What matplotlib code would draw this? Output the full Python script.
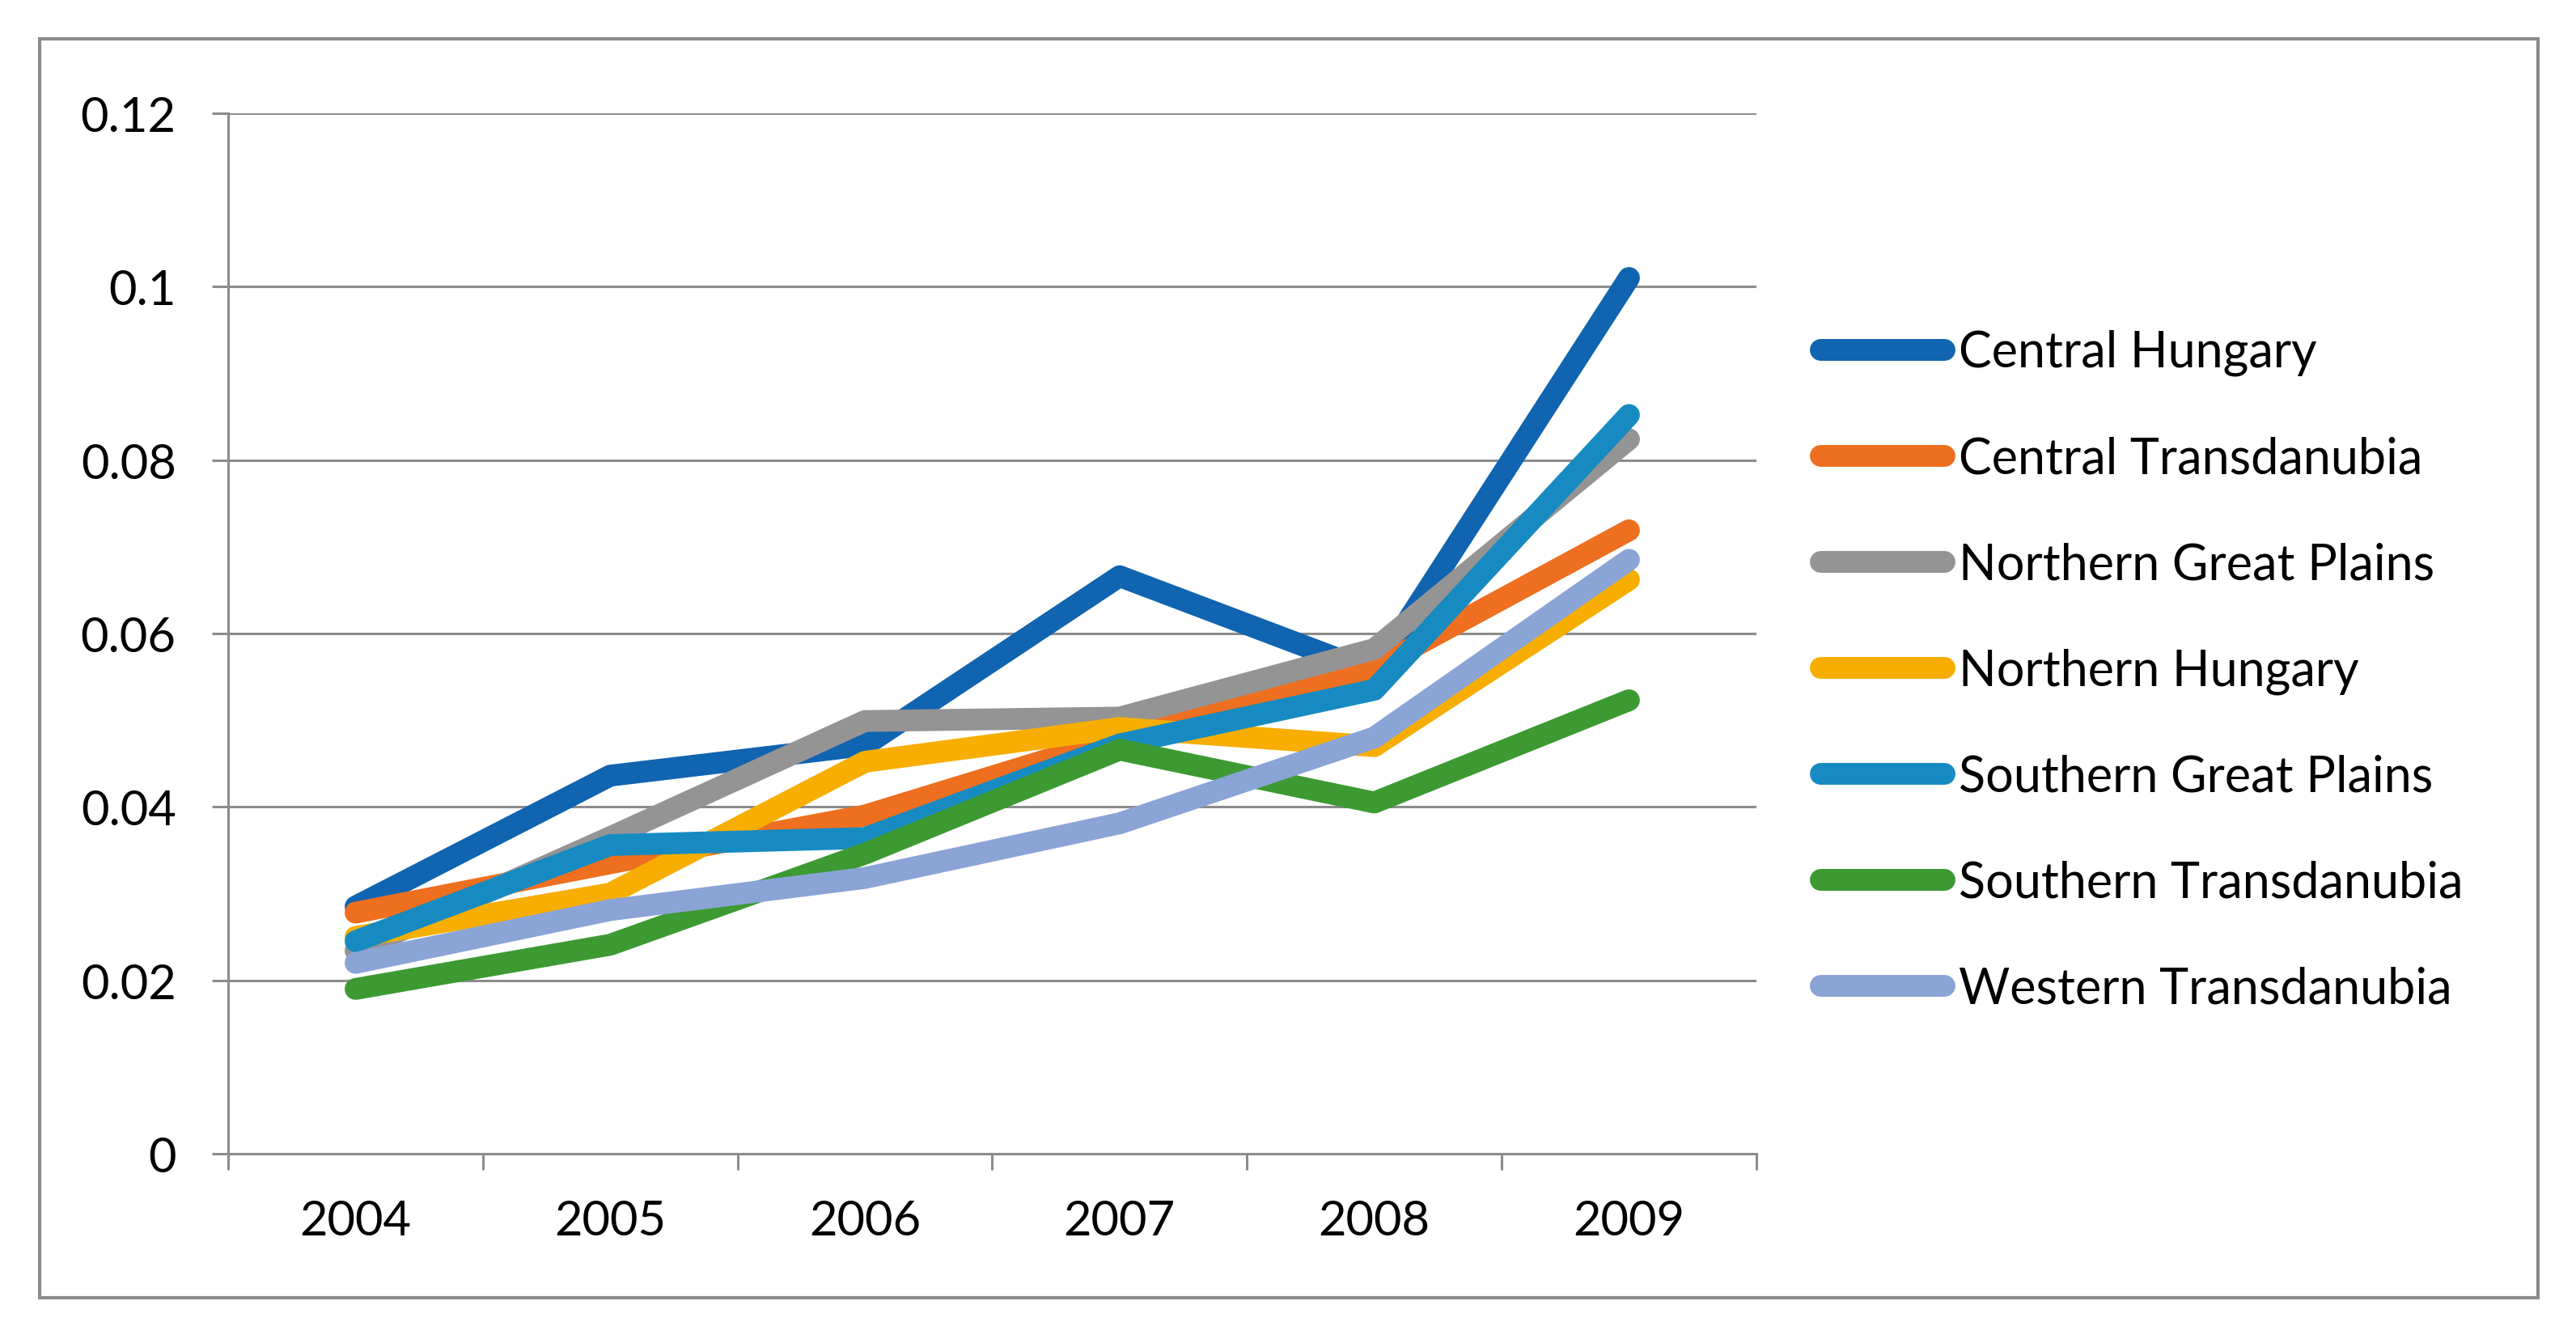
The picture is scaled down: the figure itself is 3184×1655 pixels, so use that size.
import numpy as np
from matplotlib import pyplot as plt
from matplotlib.patches import Rectangle
from matplotlib.ticker import FixedLocator, NullFormatter

# dati
anni = ["2004", "2005", "2006", "2007", "2008", "2009"]
regioni = ["Central Hungary", "Central Transdanubia", "Northern Great Plains",
           "Northern Hungary", "Southern Great Plains", "Southern Transdanubia",
           "Western Transdanubia"]
central_hungary = [0.0285, 0.0436, 0.0471, 0.0666, 0.0555, 0.1010]
central_transdanubia = [0.0278, 0.0335, 0.0390, 0.0480, 0.0560, 0.0719]
northern_great_plains = [0.0234, 0.0365, 0.0499, 0.0503, 0.0582, 0.0824]
northern_hungary = [0.0250, 0.0300, 0.0452, 0.0491, 0.0470, 0.0662]
southern_great_plains = [0.0245, 0.0356, 0.0364, 0.0472, 0.0535, 0.0852]
southern_transdanubia = [0.0190, 0.0241, 0.0346, 0.0466, 0.0405, 0.0523]
western_transdanubia = [0.0220, 0.0281, 0.0318, 0.0381, 0.0480, 0.0685]
y_ticks = [0, 0.02, 0.04, 0.06, 0.08, 0.1, 0.12]
y_labels = ["0", "0.02", "0.04", "0.06", "0.08", "0.1", "0.12"]

serie = [central_hungary, central_transdanubia, northern_great_plains,
         northern_hungary, southern_great_plains, southern_transdanubia,
         western_transdanubia]
colori = ["#1064B0", "#EE6F1F", "#949494", "#F7AE00", "#178BC1", "#3D9A33", "#8AA4D6"]

plt.rcParams['font.family'] = ['Lato', 'DejaVu Sans']
grigio = "#8C8C8C"

fig = plt.figure(figsize=(15.92, 8.28), dpi=200)
ax = fig.add_axes([0.0886, 0.1383, 0.6818 - 0.0886, 0.9149 - 0.1383])

x = np.arange(len(anni))
for valori, nome, colore in zip(serie, regioni, colori):
    ax.plot(x, valori, color=colore, lw=9.7, label=nome,
            solid_capstyle='round', solid_joinstyle='round')

ax.set_xlim(-0.5, len(anni) - 0.5)
ax.set_ylim(0, 0.12)
ax.set_yticks(y_ticks)
ax.set_yticklabels(y_labels)
ax.yaxis.grid(True, color=grigio, lw=1.1)
ax.set_axisbelow(True)

# tacche tra le categorie, etichette al centro
ax.xaxis.set_major_locator(FixedLocator(np.arange(-0.5, len(anni), 1.0)))
ax.xaxis.set_major_formatter(NullFormatter())
ax.xaxis.set_minor_locator(FixedLocator(x))
ax.set_xticklabels(anni, minor=True)
ax.tick_params(axis='x', which='major', length=7.2, width=1.1, color=grigio, direction='out')
ax.tick_params(axis='x', which='minor', length=0, pad=20, labelsize=21.5)
ax.tick_params(axis='y', length=7.2, width=1.1, color=grigio, pad=16, labelsize=21.5)

for lato in ['top', 'right']:
    ax.spines[lato].set_visible(False)
for lato in ['left', 'bottom']:
    ax.spines[lato].set_color(grigio)
    ax.spines[lato].set_linewidth(1.1)

leg = ax.legend(loc='center left', bbox_to_anchor=(0.699, 0.4989),
                bbox_transform=fig.transFigure, frameon=False, fontsize=22,
                handlelength=2.5, handletextpad=0.3, labelspacing=1.21,
                borderaxespad=0)

# cornice esterna
fig.patches.append(Rectangle((49 / 3184, 1 - 1605 / 1656), (3137 - 49) / 3184,
                             (1605 - 49) / 1656, transform=fig.transFigure,
                             fill=False, edgecolor=grigio, lw=1.5))

fig.savefig("out.png", dpi=200)
